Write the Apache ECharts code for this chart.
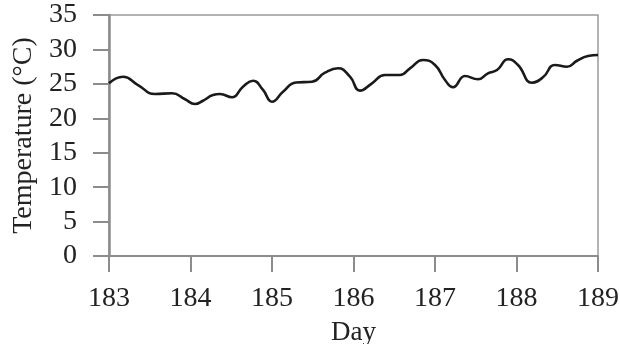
<!DOCTYPE html>
<html>
<head>
<meta charset="utf-8">
<script src="https://cdn.jsdelivr.net/npm/echarts@6/dist/echarts.min.js"></script>
<style>html,body{margin:0;padding:0;background:#fff}#c{width:620px;height:344px}</style>
</head>
<body>
<div id="c"></div>
<script>
const days = [183.000,183.172,183.356,183.564,183.773,183.933,184.055,184.153,184.276,184.362,184.509,184.644,184.767,184.890,185.000,185.135,185.294,185.491,185.650,185.810,185.957,186.080,186.227,186.387,186.571,186.693,186.853,187.000,187.123,187.221,187.368,187.528,187.650,187.761,187.896,188.018,188.190,188.325,188.472,188.620,188.742,188.877,189.000];
const temps = [25.08,26.04,24.83,23.53,23.63,22.76,22.07,22.55,23.38,23.53,23.05,24.59,25.46,24.11,22.41,23.86,25.20,25.31,26.62,27.26,26.04,24.01,25.08,26.29,26.29,27.26,28.47,27.74,25.56,24.50,26.14,25.66,26.53,27.01,28.57,27.74,25.17,25.95,27.74,27.49,28.36,29.05,29.19];
const xTicks = [183,184,185,186,187,188,189];
const yTicks = [0,5,10,15,20,25,30,35];
const xName = 'Day';
const yName = 'Temperature (°C)';

const font = 'Liberation Serif';
const axisGray = '#8c8c8c';
const chart = echarts.init(document.getElementById('c'), null, {renderer:'canvas'});
chart.setOption({
  animation: false,
  grid: {left:109, right:22, top:15, bottom:88, containLabel:false, outerBoundsMode:'none',
         show:true, borderColor:'#9a9a9a', borderWidth:1.5},
  xAxis: {
    type:'value', min:xTicks[0], max:xTicks[xTicks.length-1], interval:1,
    name:xName, nameLocation:'middle', nameGap:63,
    nameTextStyle:{fontFamily:font, fontSize:27, color:'#222', verticalAlign:'top'},
    axisLine:{show:true, lineStyle:{color:axisGray, width:2}},
    axisTick:{show:true, length:16, lineStyle:{color:axisGray, width:2}},
    axisLabel:{margin:29, fontFamily:font, fontSize:28, color:'#222', verticalAlign:'top'},
    splitLine:{show:false}
  },
  yAxis: {
    type:'value', min:yTicks[0], max:yTicks[yTicks.length-1], interval:5,
    name:yName, nameLocation:'middle', nameGap:69,
    nameTextStyle:{fontFamily:font, fontSize:28, color:'#222'},
    axisLine:{show:true, lineStyle:{color:axisGray, width:2.5}},
    axisTick:{show:true, length:16, lineStyle:{color:axisGray, width:2}},
    axisLabel:{margin:32, fontFamily:font, fontSize:28, color:'#222'},
    splitLine:{show:false}
  },
  series: [{
    type:'line', smooth:0.5, symbol:'none',
    data: days.map((d,i)=>[d,temps[i]]),
    lineStyle:{color:'#1a1a1a', width:2.6}
  }]
});
</script>
</body>
</html>
